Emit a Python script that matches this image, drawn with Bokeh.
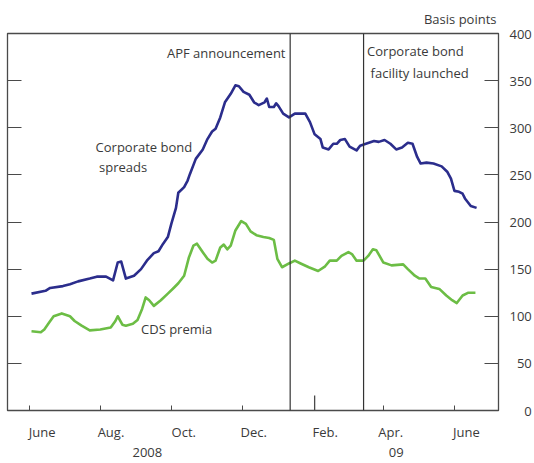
import pandas as pd
from bokeh.plotting import figure
from bokeh.models import LinearAxis, FixedTicker, Range1d, Span, Label, ColumnDataSource
from bokeh.embed import file_html
from bokeh.resources import INLINE

# ---------------- data ----------------
bond_dates = [
    "2008-06-03", "2008-06-15", "2008-06-19", "2008-06-30", "2008-07-06", "2008-07-13",
    "2008-07-23", "2008-07-29", "2008-08-06", "2008-08-12", "2008-08-16", "2008-08-19",
    "2008-08-23", "2008-08-30", "2008-09-05", "2008-09-10", "2008-09-16", "2008-09-20",
    "2008-09-24", "2008-09-28", "2008-10-01", "2008-10-05", "2008-10-07", "2008-10-12",
    "2008-10-15", "2008-10-17", "2008-10-22", "2008-10-28", "2008-11-01", "2008-11-05",
    "2008-11-08", "2008-11-12", "2008-11-16", "2008-11-21", "2008-11-25", "2008-11-28",
    "2008-12-02", "2008-12-07", "2008-12-11", "2008-12-15", "2008-12-20", "2008-12-22",
    "2008-12-24", "2008-12-28", "2008-12-30", "2009-01-01", "2009-01-05", "2009-01-10",
    "2009-01-15", "2009-01-24", "2009-01-28", "2009-02-01", "2009-02-06", "2009-02-08",
    "2009-02-13", "2009-02-17", "2009-02-20", "2009-02-23", "2009-02-27", "2009-03-03",
    "2009-03-09", "2009-03-12", "2009-03-17", "2009-03-24", "2009-03-28", "2009-04-02",
    "2009-04-07", "2009-04-12", "2009-04-17", "2009-04-22", "2009-04-26", "2009-04-30",
    "2009-05-03", "2009-05-08", "2009-05-14", "2009-05-21", "2009-05-26", "2009-05-29",
    "2009-06-01", "2009-06-05", "2009-06-08", "2009-06-10", "2009-06-15", "2009-06-20",
]
bond_spreads = [
    124, 127, 130, 132, 134, 137,
    140, 142, 142, 138, 157, 158,
    140, 143, 150, 159, 167, 169,
    177, 184, 198, 215, 231, 237,
    244, 251, 267, 277, 288, 296,
    299, 311, 327, 336, 345, 344,
    338, 335, 327, 324, 327, 331,
    322, 322, 326, 323, 315, 311,
    315, 315, 306, 293, 288, 279,
    277, 283, 283, 287, 288, 280,
    276, 281, 283, 286, 285, 287,
    283, 277, 279, 284, 283, 269,
    262, 263, 262, 259, 253, 246,
    233, 232, 230, 225, 217, 215,
]

cds_dates = [
    "2008-06-03", "2008-06-11", "2008-06-14", "2008-06-18", "2008-06-22", "2008-06-29",
    "2008-07-06", "2008-07-10", "2008-07-16", "2008-07-23", "2008-08-01", "2008-08-10",
    "2008-08-14", "2008-08-16", "2008-08-20", "2008-08-23", "2008-08-29", "2008-09-02",
    "2008-09-06", "2008-09-09", "2008-09-12", "2008-09-16", "2008-09-22", "2008-09-28",
    "2008-10-03", "2008-10-07", "2008-10-12", "2008-10-16", "2008-10-20", "2008-10-23",
    "2008-10-28", "2008-11-01", "2008-11-05", "2008-11-08", "2008-11-12", "2008-11-15",
    "2008-11-18", "2008-11-21", "2008-11-25", "2008-11-30", "2008-12-04", "2008-12-08",
    "2008-12-13", "2008-12-19", "2008-12-24", "2008-12-28", "2008-12-31", "2009-01-04",
    "2009-01-10", "2009-01-15", "2009-01-20", "2009-01-27", "2009-02-04", "2009-02-10",
    "2009-02-14", "2009-02-20", "2009-02-24", "2009-03-02", "2009-03-05", "2009-03-09",
    "2009-03-15", "2009-03-19", "2009-03-23", "2009-03-26", "2009-04-01", "2009-04-08",
    "2009-04-18", "2009-04-22", "2009-04-28", "2009-05-02", "2009-05-07", "2009-05-12",
    "2009-05-19", "2009-05-25", "2009-05-30", "2009-06-03", "2009-06-08", "2009-06-13",
    "2009-06-19",
]
cds_premia = [
    84, 83, 86, 93, 100, 103,
    100, 95, 90, 85, 86, 88,
    95, 100, 91, 90, 92, 96,
    108, 120, 117, 111, 117, 124,
    130, 135, 143, 162, 175, 177,
    168, 161, 157, 159, 173, 176,
    171, 175, 191, 201, 198, 190,
    186, 184, 183, 181, 161, 152,
    156, 159, 156, 152, 148, 153,
    159, 159, 164, 168, 166, 159,
    159, 164, 171, 170, 157, 154,
    155, 150, 143, 140, 140, 131,
    129, 122, 117, 114, 122, 125,
    125,
]

event_dates = ["2009-01-11", "2009-03-15"]

month_tick_dates = ["2008-06-01", "2008-08-01", "2008-10-01", "2008-12-01",
                    "2009-02-01", "2009-04-01", "2009-06-01"]
month_label_dates = ["2008-06-12 04:00", "2008-08-10 05:00", "2008-10-11 17:00",
                     "2008-12-10 19:00", "2009-02-10 00:00", "2009-04-07 07:00",
                     "2009-06-11 07:00"]
month_labels = ["June", "Aug.", "Oct.", "Dec.", "Feb.", "Apr.", "June"]
year_label_dates = ["2008-09-10 10:00", "2009-04-12 02:00"]
year_labels = ["2008", "09"]
feb_tick_date = "2009-02-01"

y_ticks = [0, 50, 100, 150, 200, 250, 300, 350, 400]
y_tick_labels = ["\u2007\u20070", "\u200750", "100", "150", "200", "250", "300", "350", "400"]

x_start = "2008-05-13 09:36"
x_end = "2009-07-08 19:12"


def ms(s):
    return pd.Timestamp(s).value / 1e6


FONT = "Open Sans"
TXT = "#3a3a3a"
AX = "#4a4a4a"
BLUE = "#2b2d8c"
GREEN = "#6cbd45"

p = figure(frame_width=491, frame_height=377, output_backend="svg", toolbar_location=None,
           x_axis_location=None, y_axis_location=None,
           x_range=Range1d(ms(x_start), ms(x_end)), y_range=Range1d(0, 400),
           min_border_left=7, min_border_right=35, min_border_top=33, min_border_bottom=52)
p.xgrid.visible = False
p.ygrid.visible = False
p.outline_line_color = AX
p.outline_line_width = 1.3
p.background_fill_color = "white"
p.border_fill_color = "white"

# title "Basis points"
p.title.text = "Basis points"
p.title.align = "right"
p.title.text_font = FONT
p.title.text_font_size = "13px"
p.title.text_font_style = "normal"
p.title.text_color = TXT
p.title.standoff = 11
p.title.offset = 2

# right axis with labels
ry = LinearAxis(ticker=FixedTicker(ticks=y_ticks),
                major_label_overrides={t: l for t, l in zip(y_ticks, y_tick_labels)})
ry.major_tick_in = 14
ry.major_tick_out = 0
ry.minor_tick_line_color = None
ry.axis_line_color = AX
ry.major_tick_line_color = AX
ry.major_label_standoff = 11
ry.major_label_text_font = FONT
ry.major_label_text_font_size = "13px"
ry.major_label_text_color = TXT
p.add_layout(ry, "right")

# left axis ticks only
ly = LinearAxis(ticker=FixedTicker(ticks=y_ticks))
ly.major_tick_in = 14
ly.major_tick_out = 0
ly.minor_tick_line_color = None
ly.axis_line_color = AX
ly.major_tick_line_color = AX
ly.major_label_text_font_size = "0px"
ly.major_label_text_color = None
ly.major_label_standoff = 0
p.add_layout(ly, "left")

# bottom axis: month tick marks
tx = LinearAxis(ticker=FixedTicker(ticks=[ms(d) for d in month_tick_dates]))
tx.major_tick_in = 5
tx.major_tick_out = 0
tx.minor_tick_line_color = None
tx.axis_line_color = AX
tx.major_tick_line_color = AX
tx.major_label_text_font_size = "0px"
tx.major_label_text_color = None
tx.major_label_standoff = 0
p.add_layout(tx, "below")

# bottom axis: month labels
mticks = [ms(d) for d in month_label_dates]
mx = LinearAxis(ticker=FixedTicker(ticks=mticks),
                major_label_overrides={t: l for t, l in zip(mticks, month_labels)})
mx.major_tick_in = 0
mx.major_tick_out = 0
mx.minor_tick_line_color = None
mx.axis_line_color = None
mx.major_tick_line_color = None
mx.major_label_standoff = 12
mx.major_label_text_font = FONT
mx.major_label_text_font_size = "13px"
mx.major_label_text_color = TXT
p.add_layout(mx, "below")

# bottom axis: year labels
yticks = [ms(d) for d in year_label_dates]
yx = LinearAxis(ticker=FixedTicker(ticks=yticks),
                major_label_overrides={t: l for t, l in zip(yticks, year_labels)})
yx.major_tick_in = 0
yx.major_tick_out = 0
yx.minor_tick_line_color = None
yx.axis_line_color = None
yx.major_tick_line_color = None
yx.major_label_standoff = 4
yx.major_label_text_font = FONT
yx.major_label_text_font_size = "13px"
yx.major_label_text_color = TXT
p.add_layout(yx, "below")

# taller tick at February
p.segment(x0=[ms(feb_tick_date)], y0=[0], x1=[ms(feb_tick_date)], y1=[16],
          line_color=AX, line_width=1.3)

# event lines
for d in event_dates:
    p.add_layout(Span(location=ms(d), dimension="height", line_color="#333333", line_width=1.2))

# series
bsrc = ColumnDataSource(dict(x=pd.to_datetime(bond_dates), y=bond_spreads))
gsrc = ColumnDataSource(dict(x=pd.to_datetime(cds_dates), y=cds_premia))
p.line("x", "y", source=gsrc, line_color=GREEN, line_width=2.6, line_join="round")
p.line("x", "y", source=bsrc, line_color=BLUE, line_width=2.6, line_join="round")

# annotations
def lab(x, y, text, align="left"):
    p.add_layout(Label(x=ms(x), y=y, text=text, text_font=FONT, text_font_size="13px",
                       text_color=TXT, text_align=align, text_baseline="middle"))

lab("2009-01-07", 379, "APF announcement", "right")
lab("2009-03-18", 381, "Corporate bond")
lab("2009-03-21", 358, "facility launched")
lab("2008-07-28", 280, "Corporate bond")
lab("2008-07-31", 258, "spreads")
lab("2008-09-05", 86, "CDS premia")

open("out.html", "w").write(file_html(p, INLINE))
